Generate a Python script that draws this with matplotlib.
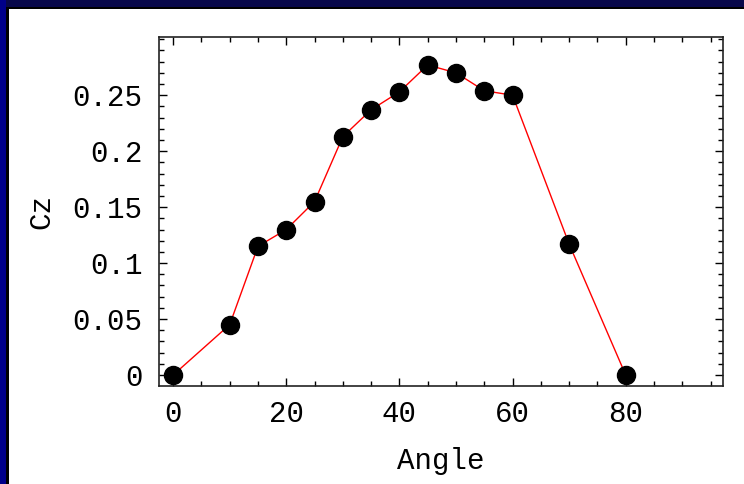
import matplotlib
matplotlib.use("Agg")
import matplotlib.pyplot as plt
from matplotlib.patches import Rectangle
from matplotlib.ticker import MultipleLocator

angles = [0, 10, 15, 20, 25, 30, 35, 40, 45, 50, 55, 60, 70, 80]
cz = [0.0, 0.045, 0.115, 0.130, 0.155, 0.213, 0.237, 0.253, 0.277, 0.270, 0.254, 0.250, 0.117, 0.0]
xticks = [0, 20, 40, 60, 80]
yticks = [0, 0.05, 0.1, 0.15, 0.2, 0.25]
ytick_labels = ["0", "0.05", "0.1", "0.15", "0.2", "0.25"]

W, H = 744, 484
fig = plt.figure(figsize=(W / 100, H / 100), dpi=100)
fig.patch.set_facecolor("white")

# decorative border (top navy band, left blue band with black edge)
fig.patches.append(Rectangle((0, 1 - 7 / H), 1, 7 / H, transform=fig.transFigure,
                             facecolor="#08084a", edgecolor="none", zorder=0))
fig.patches.append(Rectangle((0, 1 - 9 / H), 1, 2 / H, transform=fig.transFigure,
                             facecolor="#000000", edgecolor="none", zorder=0))
fig.patches.append(Rectangle((0, 0), 6 / W, 1, transform=fig.transFigure,
                             facecolor="#00008a", edgecolor="none", zorder=1))
fig.patches.append(Rectangle((6 / W, 0), 3 / W, 1 - 7 / H, transform=fig.transFigure,
                             facecolor="#000000", edgecolor="none", zorder=1))

ax = fig.add_axes([159 / W, 1 - 386 / H, (723 - 159) / W, (386 - 37) / H])
ax.plot(angles, cz, color="red", lw=1.0, zorder=2)
ax.plot(angles, cz, "o", color="black", ms=13, zorder=3, clip_on=False)

ax.set_xlim(-2.5, 97.2)
ax.set_ylim(-0.0098, 0.302)

font = "Liberation Mono"
fs = 21
ax.set_xticks(xticks)
ax.set_xticklabels([str(v) for v in xticks], family=font, fontsize=fs)
ax.set_yticks(yticks)
ax.set_yticklabels(ytick_labels, family=font, fontsize=fs)
ax.xaxis.set_minor_locator(MultipleLocator(5))
ax.yaxis.set_minor_locator(MultipleLocator(0.01))
ax.tick_params(which="both", direction="in", top=True, right=True, color="black", width=1)
ax.tick_params(which="major", length=6, pad=10)
ax.tick_params(which="minor", length=3.5)
ax.tick_params(axis="y", which="major", pad=12)

for s in ax.spines.values():
    s.set_linewidth(1.2)
    s.set_color("#222222")

ax.set_xlabel("Angle", family=font, fontsize=fs, labelpad=14)
ax.set_ylabel("Cz", family=font, fontsize=fs, labelpad=12)

fig.savefig("out.png", dpi=100, facecolor=fig.get_facecolor())
